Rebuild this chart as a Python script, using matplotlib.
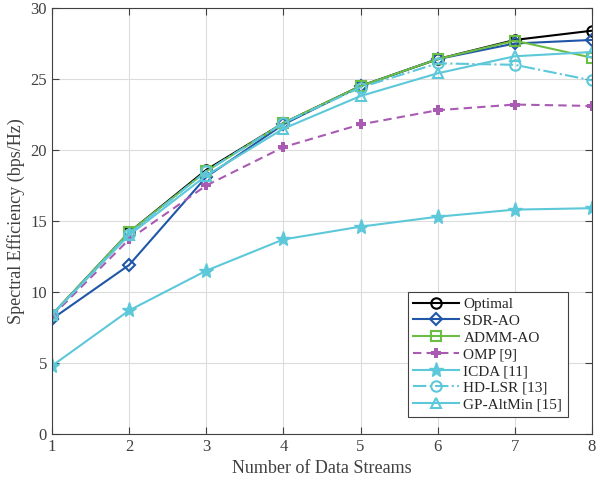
import numpy as np
import matplotlib.pyplot as plt

plt.rcParams['font.family'] = ['Liberation Serif', 'DejaVu Serif']
plt.rcParams['mathtext.fontset'] = 'stix'

# data
streams = [1, 2, 3, 4, 5, 6, 7, 8]
optimal = [8.4, 14.2, 18.6, 21.9, 24.5, 26.4, 27.75, 28.4]
sdr_ao = [8.1, 11.9, 18.1, 21.8, 24.5, 26.4, 27.5, 27.75]
admm_ao = [8.4, 14.2, 18.5, 21.9, 24.5, 26.4, 27.7, 26.5]
omp = [8.3, 13.7, 17.5, 20.2, 21.8, 22.8, 23.2, 23.1]
icda = [4.8, 8.7, 11.5, 13.7, 14.6, 15.3, 15.8, 15.9]
hd_lsr = [8.4, 14.1, 18.5, 21.9, 24.4, 26.1, 26.0, 24.9]
gp_altmin = [8.4, 14.0, 18.2, 21.5, 23.8, 25.4, 26.6, 26.9]

blue = '#1f56a8'
green = '#6cbd45'
purple = '#a95bb3'
cyan = '#5cc8d9'
txt = '#404040'

fig = plt.figure(figsize=(5.96, 4.87), dpi=100)
ax = fig.add_axes([0.0872, 0.1089, 0.9060, 0.8747])

lw = 1.5
ax.plot(streams, optimal, '-o', color='black', lw=lw, ms=7.5, mfc='none', mew=1.5, label='Optimal')
ax.plot(streams, sdr_ao, '-D', color=blue, lw=lw, ms=6, mfc='none', mew=1.5, label='SDR-AO')
ax.plot(streams, admm_ao, '-s', color=green, lw=lw, ms=6.5, mfc='none', mew=1.5, label='ADMM-AO')
ax.plot(streams, omp, '--P', color=purple, lw=lw, ms=7.5, mfc=purple, mew=0, label='OMP [9]',
        dashes=(4, 2.5))
ax.plot(streams, icda, '-*', color=cyan, lw=lw, ms=11, label='ICDA [11]')
ax.plot(streams, hd_lsr, '-.o', color=cyan, lw=lw, ms=7.5, mfc='none', mew=1.5, label='HD-LSR [13]')
ax.plot(streams, gp_altmin, '-^', color=cyan, lw=lw, ms=7.5, mfc='none', mew=1.5, label='GP-AltMin [15]')

ax.set_xlim(1, 8)
ax.set_ylim(0, 30)
ax.set_xticks(streams)
ax.set_yticks(np.arange(0, 31, 5))
ax.grid(True, color='#dcdcdc', lw=0.8)
ax.tick_params(direction='in', top=True, right=True, labelsize=12, colors=txt, length=5)
for s in ax.spines.values():
    s.set_color(txt)
    s.set_linewidth(0.8)

ax.set_xlabel('Number of Data Streams', fontsize=13, color=txt)
ax.set_ylabel('Spectral Efficiency (bps/Hz)', fontsize=13, color=txt)

leg = ax.legend(loc='lower right', bbox_to_anchor=(0.955, 0.04), fontsize=11, frameon=True,
                fancybox=False, edgecolor=txt, framealpha=1, handlelength=3.0,
                borderpad=0.35, labelspacing=0.2, handletextpad=0.3, borderaxespad=0)
leg.get_frame().set_linewidth(0.8)
for t in leg.get_texts():
    t.set_color('#262626')

fig.savefig('out.png', dpi=100)
